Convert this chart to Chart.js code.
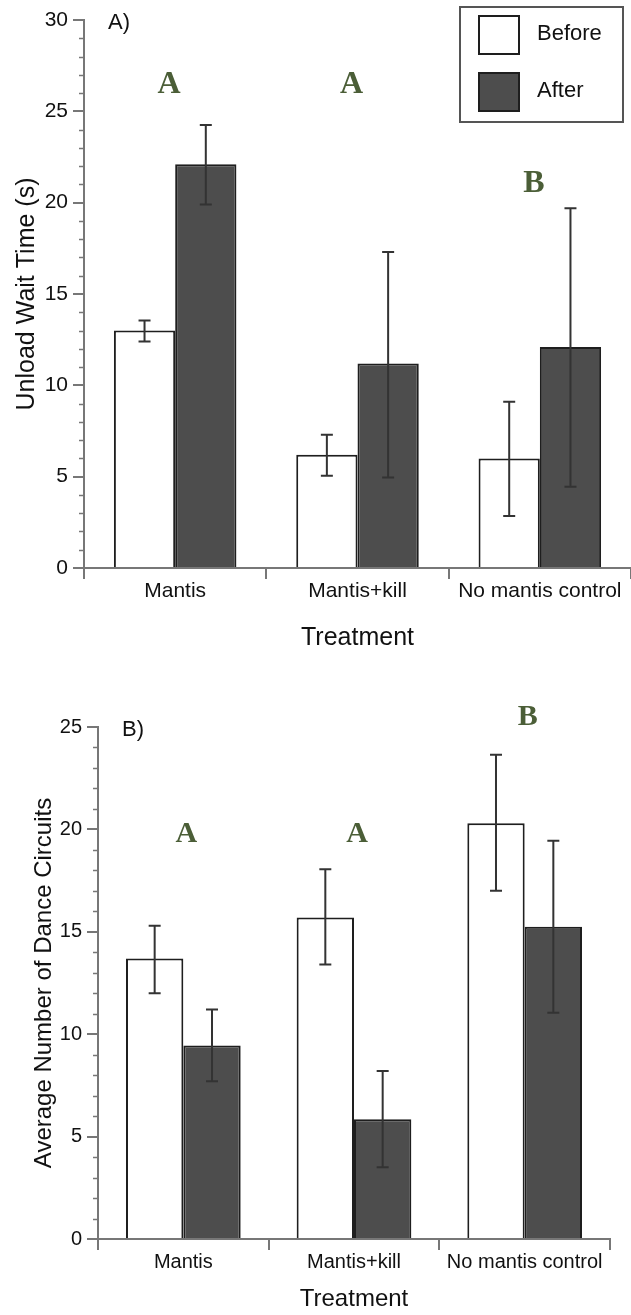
<!DOCTYPE html>
<html>
<head>
<meta charset="utf-8">
<script src="https://cdn.jsdelivr.net/npm/chart.js@4.4.1/dist/chart.umd.min.js"></script>
<style>
  body { margin: 0; background: #fff; width: 631px; height: 1315px; position: relative; overflow: hidden; }
  canvas { position: absolute; left: 0; }
</style>
</head>
<body>
<canvas id="chartA" width="631" height="660" style="top:0px"></canvas>
<canvas id="chartB" width="631" height="655" style="top:660px"></canvas>
<script>
// x axis categories, shared by both panels
const treatments = ["Mantis", "Mantis+kill", "No mantis control"];
const seriesNames = ["Before", "After"];

// panel A: unload wait time (s)
const waitBefore = [13.0, 6.2, 6.0];
const waitAfter = [22.1, 11.2, 12.1];
const waitBeforeLow = [12.4, 5.05, 2.85];
const waitBeforeHigh = [13.55, 7.3, 9.1];
const waitAfterLow = [19.9, 4.95, 4.45];
const waitAfterHigh = [24.25, 17.3, 19.7];
const waitLetters = ["A", "A", "B"];
const waitLetterY = [26.0, 26.0, 20.6];
const waitTicks = [0, 5, 10, 15, 20, 25, 30];

// panel B: average number of dance circuits
const danceBefore = [13.7, 15.7, 20.3];
const danceAfter = [9.45, 5.85, 15.25];
const danceBeforeLow = [12.0, 13.4, 17.0];
const danceBeforeHigh = [15.3, 18.05, 23.65];
const danceAfterLow = [7.7, 3.5, 11.05];
const danceAfterHigh = [11.2, 8.2, 19.45];
const danceLetters = ["A", "A", "B"];
const danceLetterY = [19.4, 19.4, 25.1];
const danceTicks = [0, 5, 10, 15, 20, 25];

const SANS = "'Liberation Sans', Arial, Helvetica, sans-serif";
const AXIS_GREY = "#777";
const INK = "#111";

// vertical error bars with caps, drawn on top of each bar
const errorBars = {
  id: "errorBars",
  afterDatasetsDraw(chart) {
    const ctx = chart.ctx;
    const y = chart.scales.y;
    chart.data.datasets.forEach((ds, i) => {
      const meta = chart.getDatasetMeta(i);
      meta.data.forEach((bar, j) => {
        const top = y.getPixelForValue(ds.errHigh[j]);
        const bot = y.getPixelForValue(ds.errLow[j]);
        ctx.save();
        ctx.strokeStyle = "#333";
        ctx.lineWidth = 2;
        ctx.beginPath();
        ctx.moveTo(bar.x, top);
        ctx.lineTo(bar.x, bot);
        ctx.moveTo(bar.x - 6, top);
        ctx.lineTo(bar.x + 6, top);
        ctx.moveTo(bar.x - 6, bot);
        ctx.lineTo(bar.x + 6, bot);
        ctx.stroke();
        ctx.restore();
      });
    });
  }
};

// minor ticks, panel label, significance letters and the boxed legend
const extras = {
  id: "extras",
  afterDraw(chart, args, opts) {
    const { ctx, chartArea } = chart;
    const x = chart.scales.x;
    const y = chart.scales.y;
    ctx.save();

    // minor ticks every 1 unit
    ctx.strokeStyle = AXIS_GREY;
    ctx.lineWidth = 1.5;
    ctx.beginPath();
    for (let v = y.min; v <= y.max; v++) {
      if (v % 5 === 0) continue;
      const py = Math.round(y.getPixelForValue(v)) + 0.5;
      ctx.moveTo(chartArea.left - 5, py);
      ctx.lineTo(chartArea.left, py);
    }
    ctx.stroke();

    // panel label
    ctx.fillStyle = INK;
    ctx.font = "22px " + SANS;
    ctx.textAlign = "left";
    ctx.textBaseline = "middle";
    ctx.fillText(opts.panel, chartArea.left + 24, y.getPixelForValue(y.max) + 3);

    // letters
    ctx.fillStyle = "#4b5e37";
    ctx.font = "bold " + opts.letterSize + "px 'Liberation Serif', 'Times New Roman', serif";
    ctx.textAlign = "center";
    ctx.textBaseline = "alphabetic";
    opts.letters.forEach((t, j) => {
      ctx.fillText(t, x.getPixelForValue(j) + opts.letterShift, y.getPixelForValue(opts.letterY[j]));
    });

    // legend box
    if (opts.legend) {
      ctx.strokeStyle = "#555";
      ctx.lineWidth = 2;
      ctx.strokeRect(460, 7, 163, 115);
      ctx.font = "22px " + SANS;
      ctx.textAlign = "left";
      ctx.textBaseline = "middle";
      chart.data.datasets.forEach((ds, i) => {
        const top = i === 0 ? 16 : 73;
        ctx.fillStyle = ds.backgroundColor;
        ctx.fillRect(479, top, 40, 38);
        ctx.strokeStyle = "#1e1e1e";
        ctx.strokeRect(479, top, 40, 38);
        ctx.fillStyle = INK;
        ctx.fillText(ds.label, 537, top + 18);
      });
    }
    ctx.restore();
  }
};

function makeChart(id, cfg) {
  return new Chart(document.getElementById(id), {
    type: "bar",
    data: {
      labels: treatments,
      datasets: [
        {
          label: seriesNames[0],
          data: cfg.before,
          errLow: cfg.beforeLow,
          errHigh: cfg.beforeHigh,
          backgroundColor: "#ffffff",
          borderColor: "#1e1e1e",
          borderWidth: 2
        },
        {
          label: seriesNames[1],
          data: cfg.after,
          errLow: cfg.afterLow,
          errHigh: cfg.afterHigh,
          backgroundColor: "#4d4d4d",
          borderColor: "#1e1e1e",
          borderWidth: 2
        }
      ]
    },
    options: {
      responsive: false,
      animation: false,
      devicePixelRatio: 1,
      categoryPercentage: 0.672,
      barPercentage: 1.0,
      layout: { padding: cfg.padding },
      plugins: {
        legend: { display: false },
        tooltip: { enabled: false },
        extras: {
          panel: cfg.panel,
          letters: cfg.letters,
          letterY: cfg.letterY,
          letterSize: cfg.letterSize,
          letterShift: cfg.letterShift,
          legend: cfg.legend
        }
      },
      scales: {
        x: {
          afterFit: (s) => { s.height = cfg.xHeight; },
          grid: {
            display: true,
            drawOnChartArea: false,
            offset: true,
            tickLength: 11,
            color: AXIS_GREY,
            lineWidth: 2
          },
          border: { display: true, color: AXIS_GREY, width: 2 },
          ticks: { color: INK, padding: 0, font: { family: SANS, size: cfg.tickSize } },
          title: {
            display: true,
            text: "Treatment",
            color: INK,
            font: { family: SANS, size: cfg.xTitleSize },
            padding: { top: 0, bottom: cfg.xTitlePad }
          }
        },
        y: {
          min: 0,
          max: cfg.ticks[cfg.ticks.length - 1],
          afterFit: (s) => { s.width = cfg.yWidth; },
          afterBuildTicks: (s) => { s.ticks = cfg.ticks.map((v) => ({ value: v })); },
          grid: {
            display: true,
            drawOnChartArea: false,
            tickLength: 11,
            color: AXIS_GREY,
            lineWidth: 2
          },
          border: { display: true, color: AXIS_GREY, width: 2 },
          ticks: { color: INK, padding: 5, font: { family: SANS, size: cfg.tickSize } },
          title: {
            display: true,
            text: cfg.yTitle,
            color: INK,
            font: { family: SANS, size: cfg.yTitleSize },
            padding: { top: cfg.yTitlePad, bottom: 0 }
          }
        }
      }
    },
    plugins: [errorBars, extras]
  });
}

makeChart("chartA", {
  before: waitBefore, after: waitAfter,
  beforeLow: waitBeforeLow, beforeHigh: waitBeforeHigh,
  afterLow: waitAfterLow, afterHigh: waitAfterHigh,
  letters: waitLetters, letterY: waitLetterY, ticks: waitTicks,
  panel: "A)", yTitle: "Unload Wait Time (s)",
  padding: { top: 20, right: 0, left: 0, bottom: 0 },
  xHeight: 92, yWidth: 84,
  tickSize: 21, xTitleSize: 25, xTitlePad: 7, yTitleSize: 25, yTitlePad: 12,
  letterSize: 32, letterShift: -6, legend: true
});

makeChart("chartB", {
  before: danceBefore, after: danceAfter,
  beforeLow: danceBeforeLow, beforeHigh: danceBeforeHigh,
  afterLow: danceAfterLow, afterHigh: danceAfterHigh,
  letters: danceLetters, letterY: danceLetterY, ticks: danceTicks,
  panel: "B)", yTitle: "Average Number of Dance Circuits",
  padding: { top: 67, right: 21, left: 0, bottom: 0 },
  xHeight: 76, yWidth: 98,
  tickSize: 20, xTitleSize: 24, xTitlePad: 1, yTitleSize: 24, yTitlePad: 30,
  letterSize: 30, letterShift: 3, legend: false
});
</script>
</body>
</html>
